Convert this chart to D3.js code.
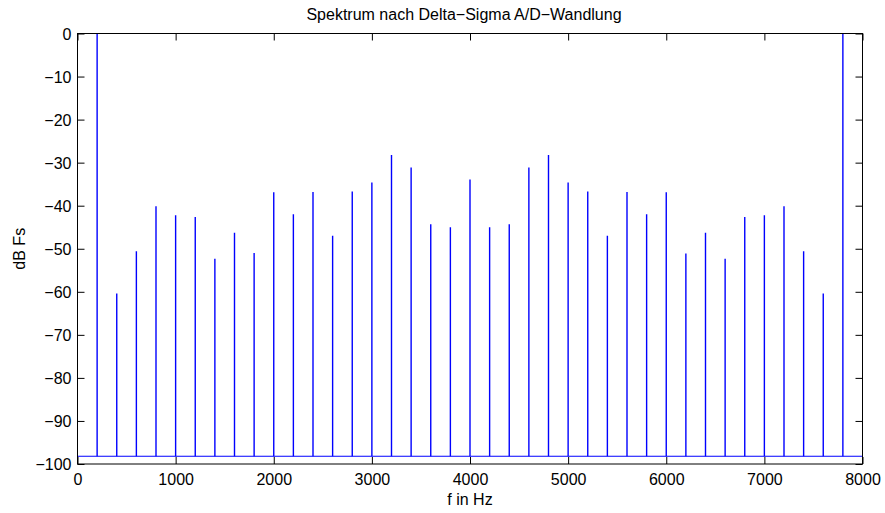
<!DOCTYPE html>
<html>
<head>
<meta charset="utf-8">
<script src="https://cdn.jsdelivr.net/npm/d3@7/dist/d3.min.js"></script>
<style>
  html, body { margin: 0; padding: 0; background: #fff; }
  svg { display: block; }
  text { font-family: "Liberation Sans", Arial, Helvetica, sans-serif; fill: #000; }
</style>
</head>
<body>
<svg id="chart" width="885" height="513"></svg>
<script>
// Data
const freqs = [200, 400, 600, 800, 1000, 1200, 1400, 1600, 1800, 2000,
               2200, 2400, 2600, 2800, 3000, 3200, 3400, 3600, 3800, 4000,
               4200, 4400, 4600, 4800, 5000, 5200, 5400, 5600, 5800, 6000,
               6200, 6400, 6600, 6800, 7000, 7200, 7400, 7600, 7800];
const levels = [0, -60.4, -50.6, -40.1, -42.2, -42.6, -52.3, -46.3, -51.0, -36.9,
                -42.0, -36.8, -47.0, -36.7, -34.6, -28.2, -31.1, -44.3, -45.0, -33.9,
                -45.0, -44.3, -31.1, -28.2, -34.6, -36.7, -47.0, -36.8, -42.0, -36.9,
                -51.1, -46.3, -52.3, -42.6, -42.2, -40.1, -50.6, -60.4, 0];
const floorLevel = -98.2;
const xTicks = [0, 1000, 2000, 3000, 4000, 5000, 6000, 7000, 8000];
const yTicks = [0, -10, -20, -30, -40, -50, -60, -70, -80, -90, -100];
const titleText = "Spektrum nach Delta\u2212Sigma A/D\u2212Wandlung";
const xLabel = "f in Hz";
const yLabel = "dB Fs";

(function () {
const svg = d3.select("#chart");
const mLeft = 77.5, mRight = 862.5, mTop = 33.5, mBottom = 464;
const x = d3.scaleLinear().domain([0, 8000]).range([mLeft, mRight]);
const y = d3.scaleLinear().domain([-100, 0]).range([mBottom, mTop]);
const fmt = d => (d < 0 ? "\u2212" + Math.abs(d) : String(d));

svg.append("clipPath").attr("id", "clip")
  .append("rect").attr("x", mLeft).attr("y", mTop).attr("width", mRight - mLeft).attr("height", mBottom - mTop);

const plot = svg.append("g").attr("clip-path", "url(#clip)");
plot.append("line")
  .attr("x1", x(0)).attr("x2", x(8000))
  .attr("y1", y(floorLevel)).attr("y2", y(floorLevel))
  .attr("stroke", "#0000ff").attr("stroke-width", 1.2);
plot.selectAll("line.stem").data(freqs).join("line")
  .attr("class", "stem")
  .attr("x1", d => x(d)).attr("x2", d => x(d))
  .attr("y1", y(floorLevel)).attr("y2", (d, i) => y(levels[i]))
  .attr("stroke", "#0000ff").attr("stroke-width", 1.4);

const tl = 7;
const axB = svg.append("g").attr("transform", `translate(0,${mBottom})`)
  .call(d3.axisBottom(x).tickValues(xTicks).tickFormat(fmt).tickSizeInner(-tl).tickSizeOuter(0).tickPadding(10));
const axT = svg.append("g").attr("transform", `translate(0,${mTop})`)
  .call(d3.axisTop(x).tickValues(xTicks).tickFormat("").tickSizeInner(-tl).tickSizeOuter(0));
const axL = svg.append("g").attr("transform", `translate(${mLeft},0)`)
  .call(d3.axisLeft(y).tickValues(yTicks).tickFormat(fmt).tickSizeInner(-tl).tickSizeOuter(0).tickPadding(6));
const axR = svg.append("g").attr("transform", `translate(${mRight},0)`)
  .call(d3.axisRight(y).tickValues(yTicks).tickFormat("").tickSizeInner(-tl).tickSizeOuter(0));
[axB, axT, axL, axR].forEach(a => {
  a.select(".domain").remove();
  a.selectAll(".tick line").attr("stroke", "#000");
  a.selectAll("text").attr("font-size", 16).attr("font-family", "Liberation Sans, Arial, sans-serif").attr("fill", "#000");
});
axL.selectAll("text").attr("dy", "0.36em");

svg.append("rect").attr("x", mLeft).attr("y", mTop).attr("width", mRight - mLeft).attr("height", mBottom - mTop)
  .attr("fill", "none").attr("stroke", "#000").attr("stroke-width", 1);

svg.append("text").attr("x", (mLeft + mRight) / 2 - 6).attr("y", 20).attr("text-anchor", "middle")
  .attr("font-size", 16).text(titleText);
svg.append("text").attr("x", (mLeft + mRight) / 2).attr("y", 505).attr("text-anchor", "middle")
  .attr("font-size", 16).text(xLabel);
svg.append("text").attr("transform", `translate(25,${(mTop + mBottom) / 2}) rotate(-90)`).attr("text-anchor", "middle")
  .attr("font-size", 16).text(yLabel);
})();
</script>
</body>
</html>
